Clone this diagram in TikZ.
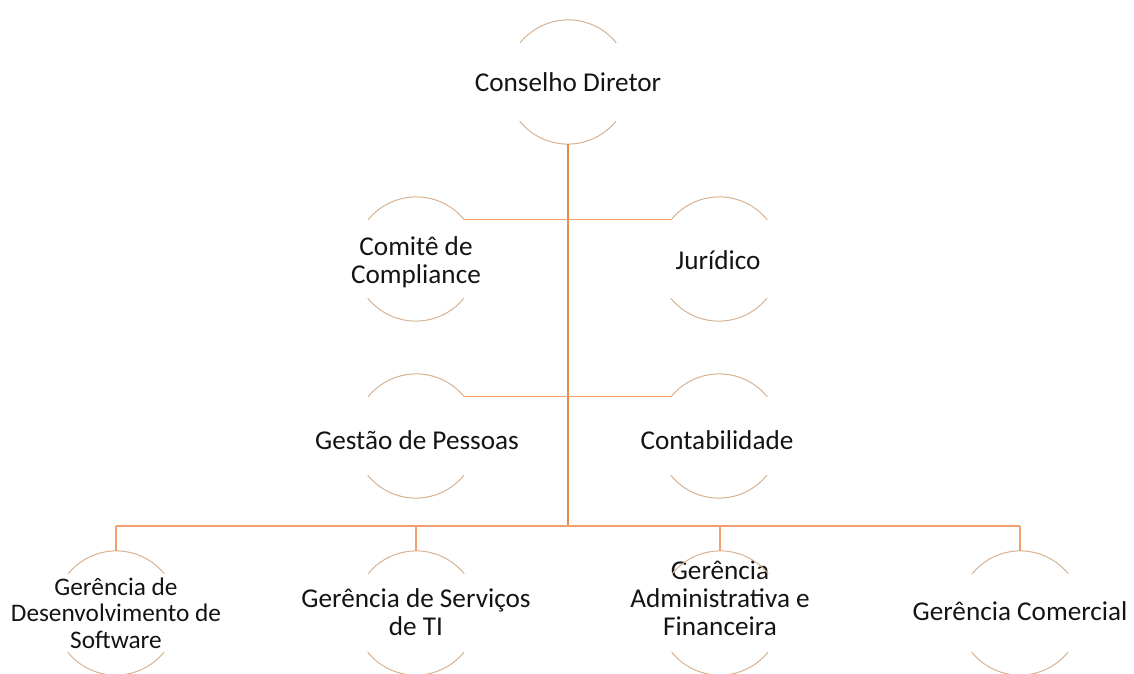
\documentclass[tikz,border=0pt]{standalone}
\usepackage{fontspec}
\setmainfont{Carlito}
\definecolor{mainline}{RGB}{226,137,76}
\definecolor{branch}{RGB}{240,160,110}
\definecolor{arcc}{RGB}{214,178,146}
\definecolor{txt}{RGB}{20,20,20}
\begin{document}
\begin{tikzpicture}[x=1pt,y=1pt,
  ring/.style={circle,draw=none,minimum size=124pt,inner sep=0pt},
  lbl/.style={align=center,text=txt,font=\fontsize{27.2}{28}\selectfont,inner sep=0pt},
  small/.style={font=\fontsize{25.3}{26.5}\selectfont},
  arcline/.style={draw=arcc,line width=1pt},
  trunk/.style={draw=mainline,line width=2pt},
  twig/.style={draw=branch,line width=1.2pt}]
\useasboundingbox (0,0) rectangle (1134,673);
% circles (invisible anchors)
\node[ring] (c1) at (568,591) {};
\node[ring] (c2) at (416,414) {};
\node[ring] (c3) at (719,414) {};
\node[ring] (c4) at (416,237) {};
\node[ring] (c5) at (719,237) {};
\node[ring] (c6) at (116,60) {};
\node[ring] (c7) at (416,60) {};
\node[ring] (c8) at (720,60) {};
\node[ring] (c9) at (1020,60) {};
% labels
\node[lbl] (t1) at (568,591) {Conselho Diretor};
\node[lbl] (t2) at (416,411) {Comitê de\\Compliance};
\node[lbl] (t3) at (718,413) {Jurídico};
\node[lbl] (t4) at (417,233) {Gestão de Pessoas};
\node[lbl] (t5) at (717,233) {Contabilidade};
\node[lbl,small] (t6) at (116,60) {Gerência de\\Desenvolvimento de\\Software};
\node[lbl] (t7) at (416,61) {Gerência de Serviços\\de TI};
\node[lbl] (t8) at (720,75) {Gerência\\Administrativa e\\Financeira};
\node[lbl] (t9) at (1020,62) {Gerência Comercial};
% arcs
\foreach \c in {c1,c2,c3,c4,c5,c6,c7,c8,c9}{
  \draw[arcline] (\c.39) arc[start angle=39,end angle=141,radius=62pt];
  \draw[arcline] (\c.219) arc[start angle=219,end angle=321,radius=62pt];
}
% connectors
\coordinate (bus) at (568,147);
\coordinate (busL) at (116,147);
\coordinate (busR) at (1020,147);
\draw[trunk] (c1.south) -- (bus);
\draw[twig] (c2.39) -- (c3.141);
\draw[twig] (c4.39) -- (c5.141);
\draw[twig] (busL) -- (busR);
\draw[twig] (busL) -- (c6.north);
\draw[twig] (c7.north |- bus) -- (c7.north);
\draw[twig] (c8.north |- bus) -- (c8.north);
\draw[twig] (busR) -- (c9.north);
\end{tikzpicture}
\end{document}
